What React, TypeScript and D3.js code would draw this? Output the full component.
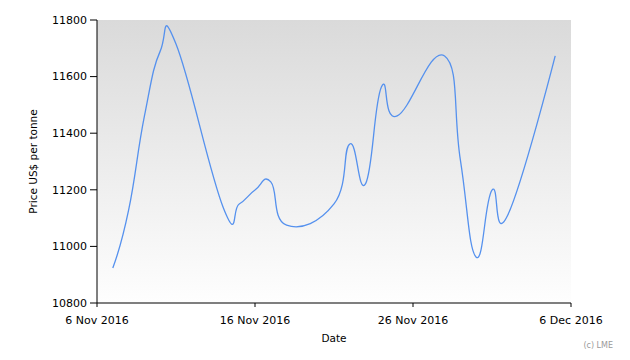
import * as d3 from 'd3';

const dates = [
  '2016-11-07', '2016-11-08', '2016-11-09', '2016-11-10', '2016-11-11',
  '2016-11-14', '2016-11-15', '2016-11-16', '2016-11-17', '2016-11-18',
  '2016-11-21', '2016-11-22', '2016-11-23', '2016-11-24', '2016-11-25',
  '2016-11-28', '2016-11-29', '2016-11-30', '2016-12-01', '2016-12-02',
  '2016-12-05',
];
const prices = [
  10924, 11128, 11460, 11690, 11715,
  11136, 11150, 11199, 11228, 11075,
  11150, 11362, 11222, 11563, 11461,
  11673, 11305, 10962, 11199, 11111,
  11673,
];
const yTicks = [10800, 11000, 11200, 11400, 11600, 11800];
const xTicks = ['2016-11-06', '2016-11-16', '2016-11-26', '2016-12-06'];

const W = 630;
const H = 360;
const left = 97;
const right = 571;
const top = 20;
const bottom = 303;
const font = 'DejaVu Sans, Verdana, sans-serif';

const parse = d3.utcParse('%Y-%m-%d');
const fmt = d3.utcFormat('%-d %b %Y');

export default function App() {
  const x = d3
    .scaleUtc()
    .domain([parse(xTicks[0])!, parse(xTicks[xTicks.length - 1])!])
    .range([left, right]);
  const y = d3.scaleLinear().domain([10800, 11800]).range([bottom, top]);

  const data = dates.map((d, i) => ({ date: parse(d)!, value: prices[i] }));

  const line = d3
    .line<{ date: Date; value: number }>()
    .x((d) => x(d.date))
    .y((d) => y(d.value))
    .curve(d3.curveCardinal.tension(-0.4));

  return (
    <svg
      width={W}
      height={H}
      style={{ position: 'absolute', left: 0, top: 0, background: '#fff' }}
    >
      <defs>
        <linearGradient id="bg" x1="0" y1="0" x2="0" y2="1">
          <stop offset="0%" stopColor="#dadada" />
          <stop offset="100%" stopColor="#fefefe" />
        </linearGradient>
        <clipPath id="plot">
          <rect x={left} y={top} width={right - left} height={bottom - top} />
        </clipPath>
      </defs>
      <rect x={left} y={top} width={right - left} height={bottom - top} fill="url(#bg)" />

      <path
        d={line(data) || ''}
        fill="none"
        stroke="#5591ee"
        strokeWidth={1.3}
        clipPath="url(#plot)"
      />

      {/* y axis */}
      <line x1={left} x2={left} y1={top} y2={bottom} stroke="#000" />
      {yTicks.map((t) => (
        <g key={t}>
          <line x1={left - 7} x2={left} y1={y(t)} y2={y(t)} stroke="#000" />
          <text
            x={left - 10}
            y={y(t)}
            dy="0.35em"
            textAnchor="end"
            fontFamily={font}
            fontSize={11}
            fill="#000"
          >
            {t}
          </text>
        </g>
      ))}

      {/* x axis */}
      <line x1={left} x2={right} y1={bottom} y2={bottom} stroke="#000" />
      {xTicks.map((t) => {
        const d = parse(t)!;
        return (
          <g key={t}>
            <line x1={x(d)} x2={x(d)} y1={bottom} y2={bottom + 4} stroke="#000" />
            <text
              x={x(d)}
              y={324}
              textAnchor="middle"
              fontFamily={font}
              fontSize={11}
              fill="#000"
            >
              {fmt(d)}
            </text>
          </g>
        );
      })}

      <text
        transform={`translate(37,${(top + bottom) / 2}) rotate(-90)`}
        textAnchor="middle"
        fontFamily={font}
        fontSize={10.5}
        fill="#000"
      >
        Price US$ per tonne
      </text>
      <text
        x={(left + right) / 2}
        y={342}
        textAnchor="middle"
        fontFamily={font}
        fontSize={10.5}
        fill="#000"
      >
        Date
      </text>
      <text x={613} y={348} textAnchor="end" fontFamily={font} fontSize={8} fill="#9a9a9a">
        (c) LME
      </text>
    </svg>
  );
}
